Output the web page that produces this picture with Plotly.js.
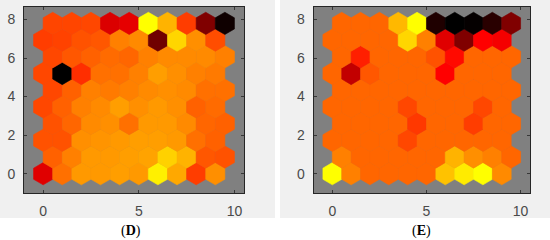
<!DOCTYPE html>
<html><head><meta charset="utf-8">
<script src="https://cdn.plot.ly/plotly-3.0.1.min.js"></script>
<style>html,body{margin:0;padding:0;background:#fff}#chart{width:550px;height:240px}</style>
</head><body><div id="chart"></div>
<script>
// SOM component planes, 10 x 10 hexagonal grid; rows listed bottom (row 0) to top (row 9)
const gridCols = 10;
const gridRows = 10;
const valuesD = [
  [0.44,0.72,0.80,0.80,0.81,0.80,0.97,0.83,0.62,0.78],
  [0.69,0.75,0.80,0.80,0.81,0.82,0.91,0.85,0.67,0.66],
  [0.66,0.66,0.78,0.79,0.80,0.81,0.81,0.80,0.72,0.69],
  [0.66,0.70,0.77,0.78,0.72,0.80,0.80,0.77,0.70,0.69],
  [0.64,0.69,0.75,0.77,0.81,0.78,0.80,0.78,0.69,0.71],
  [0.64,0.69,0.75,0.74,0.75,0.77,0.78,0.77,0.72,0.72],
  [0.64,0.00,0.59,0.72,0.72,0.75,0.81,0.78,0.75,0.74],
  [0.64,0.67,0.69,0.71,0.70,0.75,0.77,0.77,0.77,0.75],
  [0.62,0.63,0.66,0.67,0.75,0.77,0.22,0.92,0.78,0.65],
  [0.635,0.635,0.64,0.43,0.45,1.00,0.85,0.62,0.25,0.03]
];
const valuesE = [
  [1.00,0.75,0.70,0.70,0.70,0.70,0.88,0.96,1.00,0.77],
  [0.75,0.70,0.70,0.70,0.70,0.70,0.85,0.78,0.75,0.70],
  [0.70,0.70,0.70,0.70,0.64,0.70,0.70,0.70,0.70,0.70],
  [0.70,0.70,0.70,0.70,0.61,0.70,0.70,0.62,0.70,0.70],
  [0.70,0.70,0.70,0.70,0.64,0.70,0.70,0.70,0.64,0.70],
  [0.70,0.70,0.70,0.70,0.70,0.70,0.70,0.70,0.70,0.70],
  [0.70,0.38,0.67,0.70,0.70,0.70,0.50,0.70,0.70,0.70],
  [0.70,0.56,0.70,0.70,0.70,0.66,0.52,0.70,0.70,0.70],
  [0.70,0.70,0.70,0.70,0.92,0.75,0.44,0.25,0.50,0.48],
  [0.70,0.70,0.70,0.86,1.00,0.06,0.00,0.01,0.08,0.25]
];
const xTickVals = [0, 5, 10];
const yTickVals = [0, 2, 4, 6, 8];
const panelNames = ['D', 'E'];

// black -> red -> yellow map
function hotColor(v) {
  const r = Math.round(Math.min(2 * v, 1) * 255);
  const g = Math.round(Math.max(2 * v - 1, 0) * 255);
  return 'rgb(' + r + ',' + g + ',0)';
}

const R = 1 / Math.sqrt(3);
function hexTraces(vals, xa, ya) {
  const out = [];
  for (let j = 0; j < gridRows; j++) {
    for (let i = 0; i < gridCols; i++) {
      const cx = i + 0.5 * (j % 2);
      const cy = j * Math.sqrt(3) / 2;
      const xs = [], ys = [];
      for (let k = 0; k <= 6; k++) {
        const a = (90 + 60 * k) * Math.PI / 180;
        xs.push(cx + R * Math.cos(a));
        ys.push(cy + R * Math.sin(a));
      }
      const c = hotColor(vals[j][i]);
      out.push({
        type: 'scatter', mode: 'lines', x: xs, y: ys, xaxis: xa, yaxis: ya,
        fill: 'toself', fillcolor: c, line: {color: c, width: 0.6},
        hoverinfo: 'skip', showlegend: false
      });
    }
  }
  return out;
}

const data = [].concat(hexTraces(valuesD, 'x', 'y'), hexTraces(valuesE, 'x2', 'y2'));

const W = 550, H = 240;
const yMaxRange = 8.66;
const tickFont = {family: 'Liberation Sans, Arial, sans-serif', size: 14, color: '#4a4a4a'};
function xAxis(dom, anchor) {
  return {domain: dom, anchor: anchor, range: [-1, 10.5], tickvals: xTickVals,
    ticks: 'inside', ticklen: 3, tickcolor: '#262626', tickwidth: 0.8,
    showline: true, mirror: 'ticks', linecolor: '#262626', linewidth: 1,
    showgrid: false, zeroline: false, tickfont: tickFont, ticklabelstandoff: 5, fixedrange: true};
}
function yAxis(dom, anchor) {
  return {domain: dom, anchor: anchor, range: [-1, yMaxRange], tickvals: yTickVals,
    ticks: 'inside', ticklen: 3, tickcolor: '#262626', tickwidth: 0.8,
    showline: true, mirror: 'ticks', linecolor: '#262626', linewidth: 1,
    showgrid: false, zeroline: false, tickfont: tickFont, ticklabelstandoff: 5, fixedrange: true};
}
const yDom = [(H - 193) / H, (H - 6.7) / H];

const layout = {
  width: W, height: H, margin: {l: 0, r: 0, t: 0, b: 0},
  paper_bgcolor: '#ffffff', plot_bgcolor: 'rgba(0,0,0,0)',
  xaxis: xAxis([24 / W, 244 / W], 'y'),
  yaxis: yAxis(yDom, 'x'),
  xaxis2: xAxis([313.5 / W, 530 / W], 'y2'),
  yaxis2: yAxis(yDom, 'x2'),
  shapes: [
    {type: 'rect', xref: 'paper', yref: 'paper', x0: 0, x1: 275 / W, y0: (H - 218) / H, y1: 1,
     fillcolor: '#f0f0f0', line: {width: 0}, layer: 'below'},
    {type: 'rect', xref: 'paper', yref: 'paper', x0: 280 / W, x1: 1, y0: (H - 218) / H, y1: 1,
     fillcolor: '#f0f0f0', line: {width: 0}, layer: 'below'},
    {type: 'rect', xref: 'x domain', yref: 'y domain', x0: 0, x1: 1, y0: 0, y1: 1,
     fillcolor: '#808080', line: {width: 0}, layer: 'below'},
    {type: 'rect', xref: 'x2 domain', yref: 'y2 domain', x0: 0, x1: 1, y0: 0, y1: 1,
     fillcolor: '#808080', line: {width: 0}, layer: 'below'}
  ],
  annotations: [
    {xref: 'paper', yref: 'paper', x: 131 / W, y: (H - 231) / H, xanchor: 'center', yanchor: 'middle',
     text: '(<b>' + panelNames[0] + '</b>)', showarrow: false,
     font: {family: 'Liberation Serif, Times New Roman, serif', size: 14, color: '#000'}},
    {xref: 'paper', yref: 'paper', x: 421 / W, y: (H - 231) / H, xanchor: 'center', yanchor: 'middle',
     text: '(<b>' + panelNames[1] + '</b>)', showarrow: false,
     font: {family: 'Liberation Serif, Times New Roman, serif', size: 14, color: '#000'}}
  ]
};

Plotly.newPlot('chart', data, layout, {staticPlot: true, displayModeBar: false});
</script>
</body></html>
